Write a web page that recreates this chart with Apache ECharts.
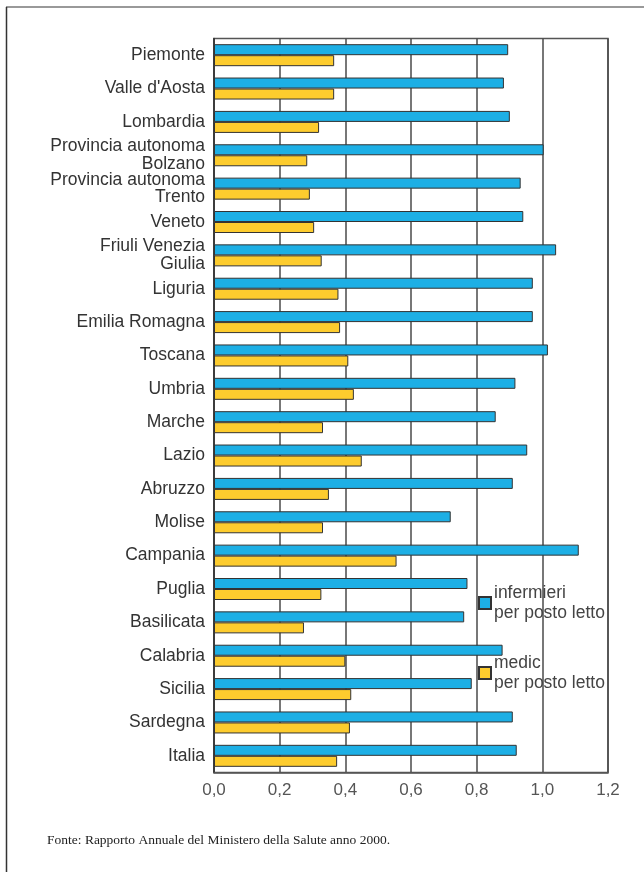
<!DOCTYPE html>
<html>
<head>
<meta charset="utf-8">
<script src="https://cdn.jsdelivr.net/npm/echarts@6/dist/echarts.min.js"></script>
<style>
  html, body { margin: 0; padding: 0; background: #fff; }
  #chart { width: 644px; height: 872px; }
</style>
</head>
<body>
<div id="chart"></div>
<script>
// regions, top to bottom
var regioni = [
  'Piemonte', "Valle d'Aosta", 'Lombardia', 'Provincia autonoma\nBolzano',
  'Provincia autonoma\nTrento', 'Veneto', 'Friuli Venezia\nGiulia', 'Liguria',
  'Emilia Romagna', 'Toscana', 'Umbria', 'Marche', 'Lazio', 'Abruzzo', 'Molise',
  'Campania', 'Puglia', 'Basilicata', 'Calabria', 'Sicilia', 'Sardegna', 'Italia'
];
var infermieri = [0.896, 0.883, 0.901, 1.004, 0.934, 0.942, 1.042, 0.971, 0.971, 1.017, 0.918,
  0.858, 0.954, 0.910, 0.721, 1.111, 0.772, 0.762, 0.879, 0.785, 0.910, 0.922];
var medici = [0.366, 0.366, 0.320, 0.284, 0.292, 0.305, 0.328, 0.379, 0.384, 0.409, 0.426,
  0.332, 0.450, 0.350, 0.332, 0.556, 0.327, 0.274, 0.400, 0.418, 0.414, 0.375];
var tickLabels = ['0,0', '0,2', '0,4', '0,6', '0,8', '1,0', '1,2'];

var chart = echarts.init(document.getElementById('chart'));
var font = '"Liberation Sans", Arial, sans-serif';

chart.setOption({
  animation: false,
  title: {
    text: 'Fonte: Rapporto Annuale del Ministero della Salute anno 2000.',
    left: 47,
    top: 833,
    padding: 0,
    textStyle: {
      fontFamily: '"Liberation Serif", "Times New Roman", serif',
      fontWeight: 'normal',
      fontSize: 13.5,
      color: '#222'
    }
  },
  grid: {
    left: 214,
    right: 36,
    top: 38.5,
    bottom: 99.5,
    show: true,
    borderColor: '#555',
    borderWidth: 1.5
  },
  legend: {
    orient: 'vertical',
    left: 478,
    top: 573,
    padding: 0,
    itemWidth: 12,
    itemHeight: 12,
    itemGap: 10,
    icon: 'rect',
    textStyle: {
      fontFamily: font,
      fontSize: 17.5,
      color: '#444',
      lineHeight: 20,
      padding: [20, 0, 0, -2]
    }
  },
  xAxis: {
    type: 'value',
    min: 0,
    max: 1.2,
    interval: 0.2,
    axisLine: { show: true, lineStyle: { color: '#555', width: 1.5 } },
    axisTick: { show: false },
    splitLine: { show: true, lineStyle: { color: '#4a4a4a', width: 1.5 } },
    axisLabel: {
      margin: 9,
      fontFamily: font,
      fontSize: 17,
      color: '#555',
      formatter: function (v) {
        return tickLabels[Math.round(v / 0.2)];
      }
    }
  },
  yAxis: {
    type: 'category',
    data: regioni,
    inverse: true,
    axisLine: { show: true, lineStyle: { color: '#333', width: 1.5 } },
    axisTick: { show: false },
    axisLabel: {
      margin: 9,
      fontFamily: font,
      fontSize: 17.5,
      lineHeight: 17.5,
      color: '#333'
    }
  },
  series: [
    {
      name: 'infermieri\nper posto letto',
      type: 'bar',
      data: infermieri,
      barWidth: 11,
      barGap: '0%',
      itemStyle: { color: '#1DAFE5', borderColor: '#333', borderWidth: 1 }
    },
    {
      name: 'medic\nper posto letto',
      type: 'bar',
      data: medici,
      barWidth: 11,
      barGap: '0%',
      itemStyle: { color: '#FDCC2E', borderColor: '#333', borderWidth: 1 }
    }
  ],
  graphic: [
    {
      type: 'line',
      shape: { x1: 6, y1: 7, x2: 644, y2: 7 },
      style: { stroke: '#999', lineWidth: 2 }
    },
    {
      type: 'line',
      shape: { x1: 6.5, y1: 7, x2: 6.5, y2: 872 },
      style: { stroke: '#333', lineWidth: 1.5 }
    }
  ]
});
</script>
</body>
</html>
